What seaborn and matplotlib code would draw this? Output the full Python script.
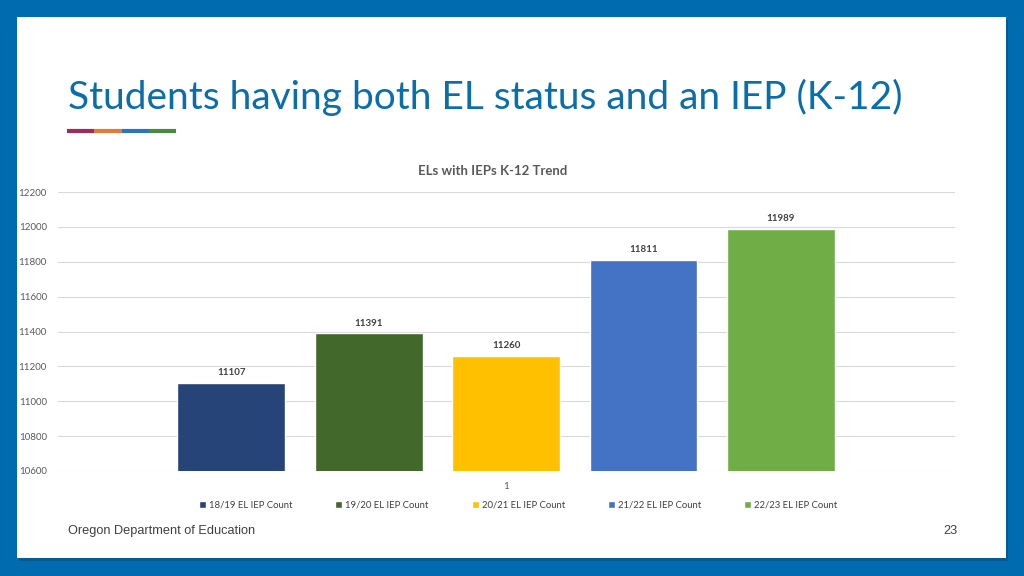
import matplotlib
matplotlib.use("Agg")
import matplotlib.pyplot as plt
import matplotlib.patches as mpatches
import pandas as pd
import seaborn as sns

# data
seasons = ['18/19 EL IEP Count', '19/20 EL IEP Count', '20/21 EL IEP Count',
           '21/22 EL IEP Count', '22/23 EL IEP Count']
counts = [11107, 11391, 11260, 11811, 11989]
category = ['1'] * len(seasons)
bar_colors = ['#264478', '#43682B', '#FFC000', '#4472C4', '#70AD47']
y_ticks = [10600, 10800, 11000, 11200, 11400, 11600, 11800, 12000, 12200]

df = pd.DataFrame({'group': category, 'season': seasons, 'count': counts})

sns.set_theme(style='white')
plt.rcParams['font.family'] = ['Lato', 'DejaVu Sans']

fig = plt.figure(figsize=(10.24, 5.76), dpi=100)
fig.patch.set_facecolor('#006BAE')

# white slide panel with a soft shadow
fig.patches.append(mpatches.Rectangle((19 / 1024, 1 - 561 / 576), 989 / 1024, 541 / 576,
                                      transform=fig.transFigure, facecolor='#0B4F80',
                                      edgecolor='none', alpha=0.6, zorder=-3))
fig.patches.append(mpatches.Rectangle((17 / 1024, 1 - 558 / 576), 989 / 1024, 541 / 576,
                                      transform=fig.transFigure, facecolor='white',
                                      edgecolor='none', zorder=-2))

# slide title and coloured underline
fig.text(68 / 1024, 1 - 97 / 576, 'Students having both EL status and an IEP (K-12)',
         color='#0A6EAB', fontsize=28, va='center', ha='left')
seg_colors = ['#9E2A5E', '#E07B39', '#2E75B6', '#4A8A3E']
for i, c in enumerate(seg_colors):
    fig.add_artist(plt.Line2D([(67 + i * 27.25) / 1024, (67 + (i + 1) * 27.25) / 1024],
                              [1 - 131 / 576, 1 - 131 / 576], color=c, lw=3,
                              transform=fig.transFigure, solid_capstyle='butt'))

ax = fig.add_axes([58 / 1024, 1 - 471 / 576, 897 / 1024, 279 / 576])
ax.set_zorder(2)
ax.set_facecolor('none')

sns.barplot(data=df, x='group', y='count', hue='season', palette=dict(zip(seasons, bar_colors)),
            gap=0.215, saturation=1, ax=ax, legend=True, width=0.8)

ax.set_ylim(10600, 12200)
ax.set_xlim(-0.522, 0.523)
ax.set_yticks(y_ticks)
ax.set_yticklabels([str(t) for t in y_ticks], fontsize=7, color='#595959')
ax.tick_params(axis='y', length=0, pad=8)
ax.tick_params(axis='x', length=0, pad=8, labelsize=7, labelcolor='#595959')
ax.yaxis.grid(True, color='#D9D9D9', lw=0.8)
ax.set_axisbelow(True)
for s in ax.spines.values():
    s.set_visible(False)
ax.set_xlabel('')
ax.set_ylabel('')

for cont in ax.containers:
    ax.bar_label(cont, fmt='%d', fontsize=7, fontweight='bold', color='#404040', padding=4)

ax.set_title('ELs with IEPs K-12 Trend', fontsize=9.5, fontweight='bold', color='#595959',
             pad=12, x=0.484)

handles, labels = ax.get_legend_handles_labels()
ax.legend(handles, labels, loc='center', bbox_to_anchor=(518 / 1024, 1 - 505 / 576),
          bbox_transform=fig.transFigure, ncol=5, frameon=False, fontsize=6.8,
          handlelength=0.75, handleheight=0.75, handletextpad=0.3, columnspacing=4.55,
          labelcolor='#404040')

# footer
fig.text(68 / 1024, 1 - 531 / 576, 'Oregon Department of Education', fontsize=9.2,
         color='#404040', va='center', ha='left', family=['Liberation Sans', 'DejaVu Sans'])
fig.text(957 / 1024, 1 - 531 / 576, '23', fontsize=9.2, color='#404040', va='center', ha='right',
         family=['Liberation Sans', 'DejaVu Sans'])

fig.savefig('out.png', dpi=100, facecolor=fig.get_facecolor())
